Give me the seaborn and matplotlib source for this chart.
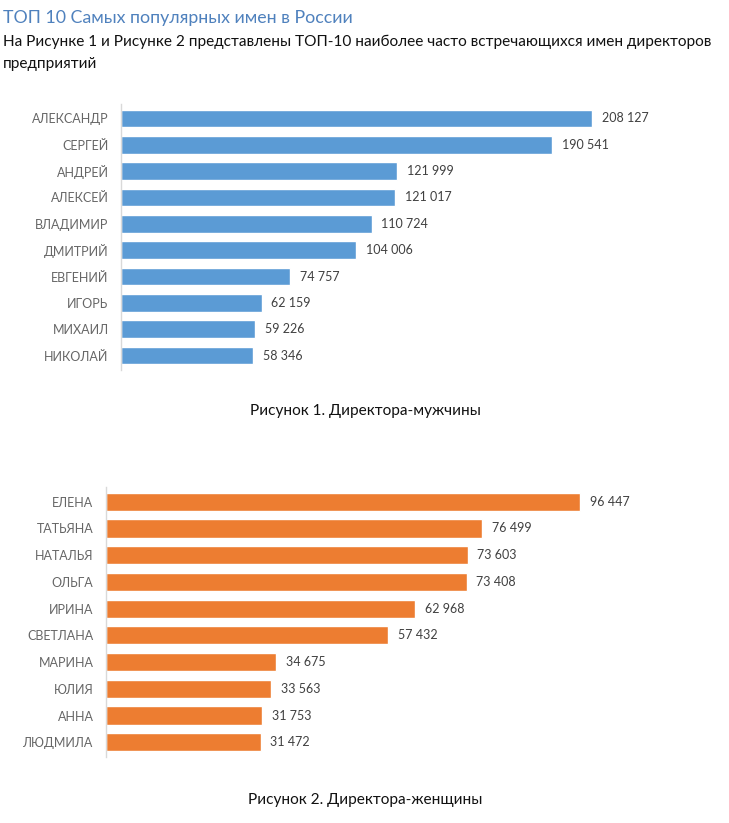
import matplotlib
matplotlib.use("Agg")
import matplotlib.pyplot as plt
import seaborn as sns
import pandas as pd

# данные
men_names = ["АЛЕКСАНДР", "СЕРГЕЙ", "АНДРЕЙ", "АЛЕКСЕЙ", "ВЛАДИМИР",
             "ДМИТРИЙ", "ЕВГЕНИЙ", "ИГОРЬ", "МИХАИЛ", "НИКОЛАЙ"]
men_counts = [208127, 190541, 121999, 121017, 110724,
              104006, 74757, 62159, 59226, 58346]

women_names = ["ЕЛЕНА", "ТАТЬЯНА", "НАТАЛЬЯ", "ОЛЬГА", "ИРИНА",
               "СВЕТЛАНА", "МАРИНА", "ЮЛИЯ", "АННА", "ЛЮДМИЛА"]
women_counts = [96447, 76499, 73603, 73408, 62968,
                57432, 34675, 33563, 31753, 31472]

sns.set_theme(style="white")
plt.rcParams['font.family'] = ['Lato', 'DejaVu Sans']

W, H = 729, 823
fig = plt.figure(figsize=(W / 100, H / 100), dpi=100)


def px_axes(x0, y0, x1, y1):
    # координаты в пикселях (от верхнего левого угла)
    return fig.add_axes([x0 / W, 1 - y1 / H, (x1 - x0) / W, (y1 - y0) / H])


def draw(ax, names, counts, color, xmax):
    df = pd.DataFrame({"name": names, "count": counts})
    sns.barplot(data=df, y="name", x="count", color=color, orient="h",
                width=0.68, saturation=1, ax=ax)
    ax.set_xlim(0, xmax)
    ax.set_ylim(9.55, -0.55)
    ax.set_xlabel("")
    ax.set_ylabel("")
    ax.set_xticks([])
    for s in ["top", "right", "bottom"]:
        ax.spines[s].set_visible(False)
    ax.spines["left"].set_color("#d9d9d9")
    ax.spines["left"].set_linewidth(1)
    ax.tick_params(axis="y", length=0, pad=9, labelsize=9, labelcolor="#666666")
    labels = [f"{v:,}".replace(",", " ") for v in counts]
    ax.bar_label(ax.containers[0], labels=labels, padding=7,
                 fontsize=9, color="#404040")


ax1 = px_axes(121, 104, 700, 370)
draw(ax1, men_names, men_counts, "#5B9BD5", 208127 * 579 / 471)

ax2 = px_axes(106, 487, 700, 757)
draw(ax2, women_names, women_counts, "#ED7D31", 96447 * 594 / 474)

fig.text(3 / W, 1 - 18 / H, "ТОП 10 Самых популярных имен в России",
         color="#4f81bd", fontsize=12.8, va="center", ha="left")
fig.text(3 / W, 1 - 42 / H,
         "На Рисунке 1 и Рисунке 2 представлены ТОП-10 наиболее часто встречающихся имен директоров",
         color="#111111", fontsize=11.1, va="center", ha="left")
fig.text(3 / W, 1 - 64 / H, "предприятий",
         color="#111111", fontsize=11.1, va="center", ha="left")

fig.text(365 / W, 1 - 411 / H, "Рисунок 1. Директора-мужчины",
         color="#111111", fontsize=11.1, va="center", ha="center")
fig.text(365 / W, 1 - 800 / H, "Рисунок 2. Директора-женщины",
         color="#111111", fontsize=11.1, va="center", ha="center")

fig.savefig("out.png", dpi=100)
